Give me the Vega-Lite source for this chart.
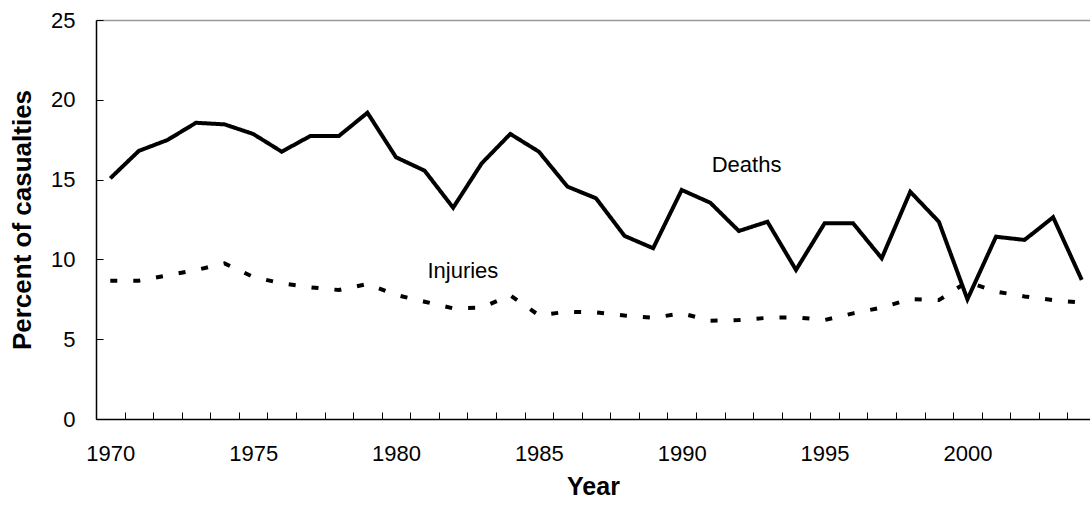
{
  "$schema": "https://vega.github.io/schema/vega-lite/v6.json",
  "width": 994,
  "height": 399,
  "autosize": {"type": "none"},
  "padding": {"left": 96, "top": 20, "right": 0, "bottom": 91},
  "background": "white",
  "config": {"view": {"stroke": null}, "font": "Liberation Sans"},
  "datasets": {
    "casualties": [
      {"year": 1970, "series": "Deaths", "value": 15.08},
      {"year": 1971, "series": "Deaths", "value": 16.8},
      {"year": 1972, "series": "Deaths", "value": 17.48},
      {"year": 1973, "series": "Deaths", "value": 18.56},
      {"year": 1974, "series": "Deaths", "value": 18.46},
      {"year": 1975, "series": "Deaths", "value": 17.86},
      {"year": 1976, "series": "Deaths", "value": 16.75},
      {"year": 1977, "series": "Deaths", "value": 17.73},
      {"year": 1978, "series": "Deaths", "value": 17.73},
      {"year": 1979, "series": "Deaths", "value": 19.19},
      {"year": 1980, "series": "Deaths", "value": 16.4},
      {"year": 1981, "series": "Deaths", "value": 15.56},
      {"year": 1982, "series": "Deaths", "value": 13.24},
      {"year": 1983, "series": "Deaths", "value": 16.02},
      {"year": 1984, "series": "Deaths", "value": 17.86},
      {"year": 1985, "series": "Deaths", "value": 16.75},
      {"year": 1986, "series": "Deaths", "value": 14.56},
      {"year": 1987, "series": "Deaths", "value": 13.83},
      {"year": 1988, "series": "Deaths", "value": 11.47},
      {"year": 1989, "series": "Deaths", "value": 10.7},
      {"year": 1990, "series": "Deaths", "value": 14.35},
      {"year": 1991, "series": "Deaths", "value": 13.55},
      {"year": 1992, "series": "Deaths", "value": 11.78},
      {"year": 1993, "series": "Deaths", "value": 12.36},
      {"year": 1994, "series": "Deaths", "value": 9.34},
      {"year": 1995, "series": "Deaths", "value": 12.26},
      {"year": 1996, "series": "Deaths", "value": 12.26},
      {"year": 1997, "series": "Deaths", "value": 10.07},
      {"year": 1998, "series": "Deaths", "value": 14.24},
      {"year": 1999, "series": "Deaths", "value": 12.36},
      {"year": 2000, "series": "Deaths", "value": 7.5},
      {"year": 2001, "series": "Deaths", "value": 11.42},
      {"year": 2002, "series": "Deaths", "value": 11.22},
      {"year": 2003, "series": "Deaths", "value": 12.64},
      {"year": 2004, "series": "Deaths", "value": 8.72},
      {"year": 1970, "series": "Injuries", "value": 8.67},
      {"year": 1971, "series": "Injuries", "value": 8.67},
      {"year": 1972, "series": "Injuries", "value": 9.0},
      {"year": 1973, "series": "Injuries", "value": 9.33},
      {"year": 1974, "series": "Injuries", "value": 9.75},
      {"year": 1975, "series": "Injuries", "value": 8.9},
      {"year": 1976, "series": "Injuries", "value": 8.5},
      {"year": 1977, "series": "Injuries", "value": 8.25},
      {"year": 1978, "series": "Injuries", "value": 8.08},
      {"year": 1979, "series": "Injuries", "value": 8.46},
      {"year": 1980, "series": "Injuries", "value": 7.77},
      {"year": 1981, "series": "Injuries", "value": 7.35},
      {"year": 1982, "series": "Injuries", "value": 6.93},
      {"year": 1983, "series": "Injuries", "value": 6.98},
      {"year": 1984, "series": "Injuries", "value": 7.75},
      {"year": 1985, "series": "Injuries", "value": 6.5},
      {"year": 1986, "series": "Injuries", "value": 6.72},
      {"year": 1987, "series": "Injuries", "value": 6.68},
      {"year": 1988, "series": "Injuries", "value": 6.48},
      {"year": 1989, "series": "Injuries", "value": 6.34},
      {"year": 1990, "series": "Injuries", "value": 6.62},
      {"year": 1991, "series": "Injuries", "value": 6.16},
      {"year": 1992, "series": "Injuries", "value": 6.2},
      {"year": 1993, "series": "Injuries", "value": 6.34},
      {"year": 1994, "series": "Injuries", "value": 6.37},
      {"year": 1995, "series": "Injuries", "value": 6.2},
      {"year": 1996, "series": "Injuries", "value": 6.62},
      {"year": 1997, "series": "Injuries", "value": 6.98},
      {"year": 1998, "series": "Injuries", "value": 7.52},
      {"year": 1999, "series": "Injuries", "value": 7.45},
      {"year": 2000, "series": "Injuries", "value": 8.6},
      {"year": 2001, "series": "Injuries", "value": 7.98},
      {"year": 2002, "series": "Injuries", "value": 7.68},
      {"year": 2003, "series": "Injuries", "value": 7.45},
      {"year": 2004, "series": "Injuries", "value": 7.29}
    ],
    "labels": [
      {"label": "Deaths", "year": 1991.05, "value": 15.9},
      {"label": "Injuries", "year": 1981.1, "value": 9.3}
    ]
  },
  "resolve": {"axis": {"x": "independent"}},
  "layer": [
    {
      "data": {"name": "casualties"},
      "mark": {"type": "line", "color": "black", "strokeWidth": 4, "strokeCap": "butt", "strokeJoin": "miter", "clip": true},
      "encoding": {
        "x": {
          "field": "year",
          "type": "quantitative",
          "scale": {"domain": [1969.5, 2004.29], "nice": false, "zero": false},
          "axis": {
            "orient": "bottom",
            "title": null,
            "labels": false,
            "values": [1969.5, 1970.5, 1971.5, 1972.5, 1973.5, 1974.5, 1975.5, 1976.5, 1977.5, 1978.5, 1979.5, 1980.5, 1981.5, 1982.5, 1983.5, 1984.5, 1985.5, 1986.5, 1987.5, 1988.5, 1989.5, 1990.5, 1991.5, 1992.5, 1993.5, 1994.5, 1995.5, 1996.5, 1997.5, 1998.5, 1999.5, 2000.5, 2001.5, 2002.5, 2003.5],
            "tickSize": -7,
            "tickWidth": 1,
            "tickColor": "black",
            "domainColor": "black",
            "domainWidth": 1.5,
            "grid": false
          }
        },
        "y": {
          "field": "value",
          "type": "quantitative",
          "scale": {"domain": [0, 25], "nice": false},
          "axis": {
            "title": "Percent of casualties",
            "titleFont": "Liberation Sans",
            "titleFontSize": 26,
            "titleFontWeight": "bold",
            "titleColor": "black",
            "titlePadding": 15,
            "values": [0, 5, 10, 15, 20, 25],
            "labelFont": "Liberation Sans",
            "labelFontSize": 22,
            "labelColor": "black",
            "labelPadding": 28,
            "tickSize": -7,
            "tickWidth": 1,
            "tickColor": "black",
            "domainColor": "black",
            "domainWidth": 1.5,
            "grid": true,
            "gridWidth": 1.5,
            "gridColor": {"condition": {"test": "datum.value === 25", "value": "#999999"}, "value": "transparent"}
          }
        },
        "strokeDash": {
          "field": "series",
          "type": "nominal",
          "scale": {"domain": ["Deaths", "Injuries"], "range": [[1, 0], [7, 16]]},
          "legend": null
        }
      }
    },
    {
      "data": {"name": "labels"},
      "mark": {"type": "text", "align": "left", "baseline": "middle", "fontSize": 22, "font": "Liberation Sans", "color": "black"},
      "encoding": {
        "x": {
          "field": "year",
          "type": "quantitative",
          "axis": {
            "orient": "bottom",
            "title": "Year",
            "titleFont": "Liberation Sans",
            "titleFontSize": 25,
            "titleFontWeight": "bold",
            "titleColor": "black",
            "titlePadding": 10,
            "values": [1970, 1975, 1980, 1985, 1990, 1995, 2000],
            "format": "d",
            "labelFont": "Liberation Sans",
            "labelFontSize": 22,
            "labelColor": "black",
            "labelPadding": 24,
            "labelFlush": false,
            "labelOverlap": false,
            "ticks": false,
            "domain": false,
            "grid": false
          }
        },
        "y": {"field": "value", "type": "quantitative"},
        "text": {"field": "label"}
      }
    }
  ]
}
